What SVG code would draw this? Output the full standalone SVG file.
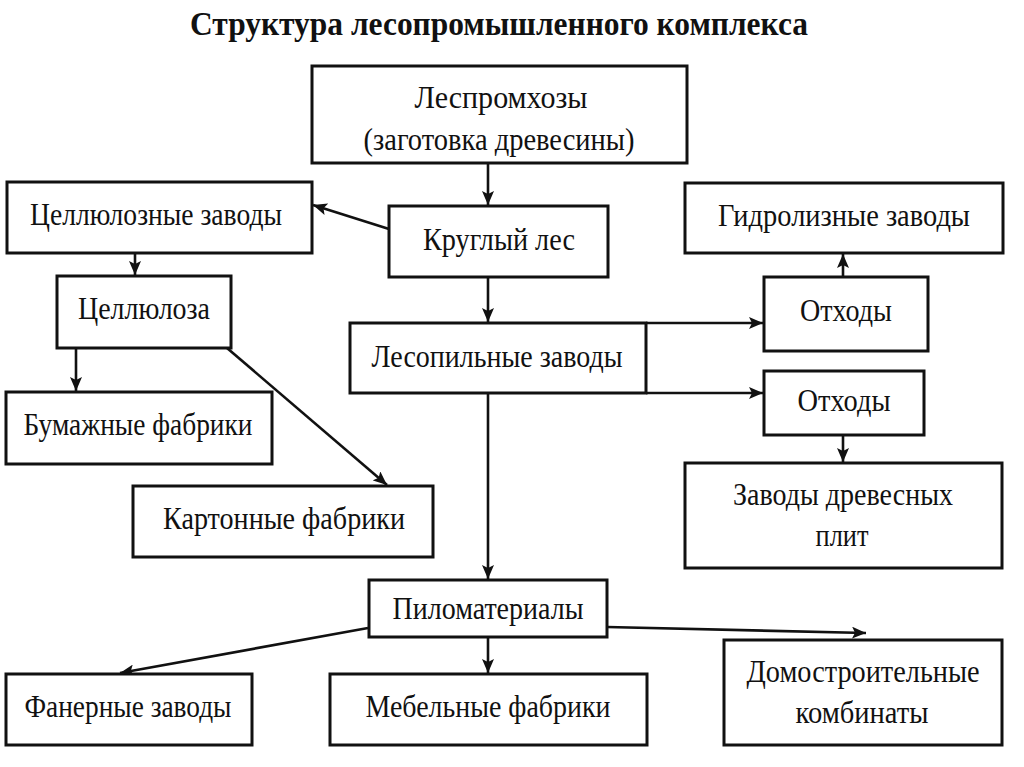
<svg xmlns="http://www.w3.org/2000/svg" width="1024" height="767" viewBox="0 0 1024 767">
<defs>
<marker id="ah" markerUnits="userSpaceOnUse" markerWidth="16" markerHeight="12" refX="14" refY="6" orient="auto">
<path d="M0,0 L14,6 L0,12 L3,6 Z" fill="#111"/>
</marker>
<style>
.box{fill:#fff;stroke:#111;stroke-width:3}
.t{font-family:"Liberation Serif","Times New Roman",serif;font-size:31px;fill:#111;text-anchor:middle}
.title{font-family:"Liberation Serif","Times New Roman",serif;font-size:33px;font-weight:bold;fill:#111;text-anchor:middle}
.ca{fill:none;stroke:#111;stroke-width:2.6;marker-end:url(#ah)}
</style>
</defs>
<rect width="1024" height="767" fill="#fff"/>
<text class="title" x="499" y="35" textLength="618" lengthAdjust="spacingAndGlyphs">Структура лесопромышленного комплекса</text>

<g id="connectors">
<line class="ca" x1="488" y1="164" x2="488" y2="205"/>
<line class="ca" x1="389" y1="229" x2="313" y2="205"/>
<line class="ca" x1="488" y1="278" x2="488" y2="322"/>
<line class="ca" x1="135" y1="254" x2="135" y2="275"/>
<line class="ca" x1="76" y1="349" x2="76" y2="391"/>
<line class="ca" x1="227" y1="348" x2="387" y2="485"/>
<line class="ca" x1="646" y1="323" x2="763" y2="323"/>
<line class="ca" x1="646" y1="393" x2="763" y2="393"/>
<line class="ca" x1="843" y1="276" x2="843" y2="254"/>
<line class="ca" x1="843" y1="436" x2="843" y2="462"/>
<line class="ca" x1="488" y1="394" x2="488" y2="579"/>
<line class="ca" x1="368" y1="628" x2="120" y2="673"/>
<line class="ca" x1="488" y1="638" x2="488" y2="673"/>
<line class="ca" x1="607" y1="627" x2="866" y2="633"/>
</g>

<g id="n-lespromhozy">
<rect class="box" x="312" y="66" width="375" height="97"/>
<text class="t" x="501" y="108" textLength="173" lengthAdjust="spacingAndGlyphs">Леспромхозы</text>
<text class="t" x="499" y="150" textLength="271" lengthAdjust="spacingAndGlyphs">(заготовка древесины)</text>
</g>
<g id="n-cellzavody">
<rect class="box" x="7" y="182" width="305" height="71"/>
<text class="t" x="156" y="225" textLength="252" lengthAdjust="spacingAndGlyphs">Целлюлозные заводы</text>
</g>
<g id="n-krugly">
<rect class="box" x="389" y="206" width="219" height="71"/>
<text class="t" x="499" y="250" textLength="152" lengthAdjust="spacingAndGlyphs">Круглый лес</text>
</g>
<g id="n-gidroliz">
<rect class="box" x="685" y="183" width="318" height="70"/>
<text class="t" x="844" y="226" textLength="252" lengthAdjust="spacingAndGlyphs">Гидролизные заводы</text>
</g>
<g id="n-cell">
<rect class="box" x="57" y="276" width="174" height="72"/>
<text class="t" x="144" y="319" textLength="132" lengthAdjust="spacingAndGlyphs">Целлюлоза</text>
</g>
<g id="n-lesopil">
<rect class="box" x="350" y="323" width="296" height="70"/>
<text class="t" x="497" y="367" textLength="251" lengthAdjust="spacingAndGlyphs">Лесопильные заводы</text>
</g>
<g id="n-othody1">
<rect class="box" x="764" y="277" width="164" height="74"/>
<text class="t" x="846" y="321" textLength="92" lengthAdjust="spacingAndGlyphs">Отходы</text>
</g>
<g id="n-othody2">
<rect class="box" x="764" y="371" width="160" height="64"/>
<text class="t" x="844" y="411" textLength="93" lengthAdjust="spacingAndGlyphs">Отходы</text>
</g>
<g id="n-bumazh">
<rect class="box" x="6" y="392" width="266" height="72"/>
<text class="t" x="138" y="435" textLength="229" lengthAdjust="spacingAndGlyphs">Бумажные фабрики</text>
</g>
<g id="n-plity">
<rect class="box" x="685" y="463" width="317" height="105"/>
<text class="t" x="843" y="505" textLength="220" lengthAdjust="spacingAndGlyphs">Заводы древесных</text>
<text class="t" x="842" y="546" textLength="53" lengthAdjust="spacingAndGlyphs">плит</text>
</g>
<g id="n-karton">
<rect class="box" x="133" y="486" width="300" height="71"/>
<text class="t" x="284" y="529" textLength="242" lengthAdjust="spacingAndGlyphs">Картонные фабрики</text>
</g>
<g id="n-pilomat">
<rect class="box" x="369" y="580" width="238" height="57"/>
<text class="t" x="488" y="619" textLength="191" lengthAdjust="spacingAndGlyphs">Пиломатериалы</text>
</g>
<g id="n-faner">
<rect class="box" x="6" y="674" width="246" height="71"/>
<text class="t" x="128" y="717" textLength="207" lengthAdjust="spacingAndGlyphs">Фанерные заводы</text>
</g>
<g id="n-mebel">
<rect class="box" x="330" y="674" width="317" height="71"/>
<text class="t" x="488" y="717" textLength="245" lengthAdjust="spacingAndGlyphs">Мебельные фабрики</text>
</g>
<g id="n-domostr">
<rect class="box" x="724" y="640" width="278" height="105"/>
<text class="t" x="863" y="682" textLength="233" lengthAdjust="spacingAndGlyphs">Домостроительные</text>
<text class="t" x="862" y="723" textLength="133" lengthAdjust="spacingAndGlyphs">комбинаты</text>
</g>
</svg>
